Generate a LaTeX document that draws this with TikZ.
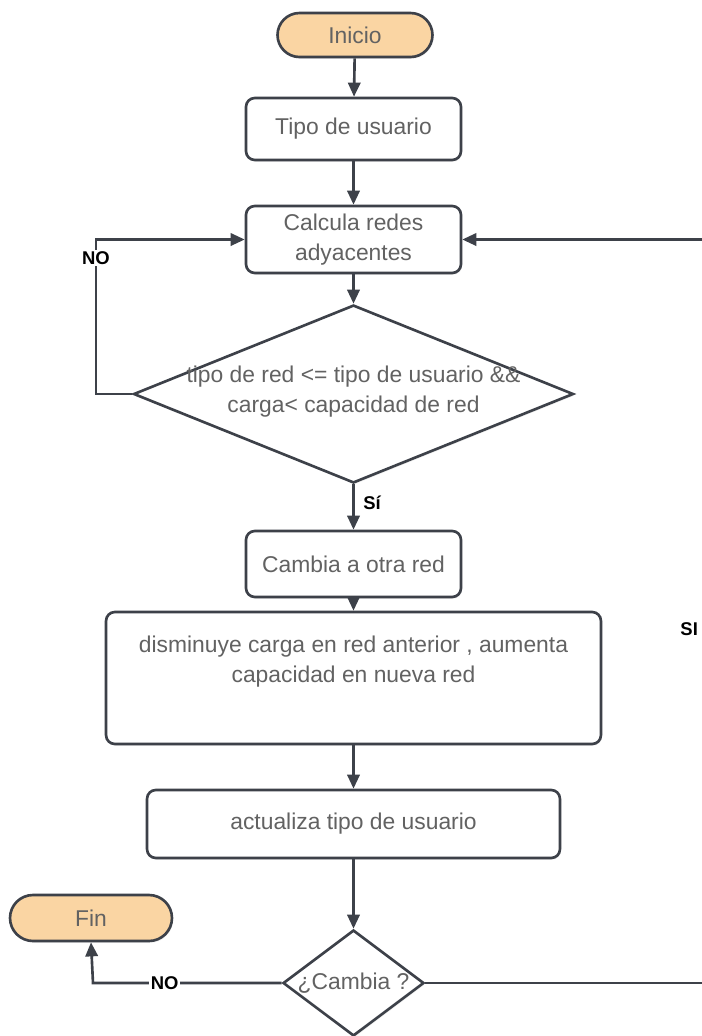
\documentclass[tikz,border=0pt]{standalone}
\usepackage{fontspec}
\setmainfont{Liberation Sans}
\usetikzlibrary{arrows.meta,shapes.misc,shapes.geometric,shadows}

\definecolor{linegray}{HTML}{3D4149}
\definecolor{textgray}{HTML}{626262}
\definecolor{terminalfill}{HTML}{FAD5A3}

\tikzset{
  base/.style={draw=linegray, line width=1.5pt, text=textgray,
    font=\fontsize{13}{17}\selectfont, align=center, inner sep=0pt,
    drop shadow={opacity=0.12, shadow xshift=0.6pt, shadow yshift=-1pt}},
  terminal/.style={base, rounded rectangle, fill=terminalfill},
  process/.style={base, rectangle, rounded corners=5pt, fill=white},
  decision/.style={base, diamond, fill=white},
  flow/.style={draw=linegray, line width=1.5pt,
    -{Triangle[length=8pt,width=7pt]}},
  tag/.style={font=\bfseries\fontsize{10.5}{12}\selectfont, text=black,
    fill=white, inner sep=1pt},
  dtext/.style={text=textgray, font=\fontsize{13}{17}\selectfont, align=center}
}

\begin{document}
\begin{tikzpicture}[x=0.02cm, y=-0.02cm]
  \useasboundingbox (0,0) rectangle (701,1036);
  \fill[white] (0,0) rectangle (701,1036);

  % main column
  \node[terminal, minimum width=3.1cm, minimum height=0.88cm] (inicio) at (355,35) {Inicio};
  \node[process, minimum width=4.3cm, minimum height=1.24cm] (tipo) at (353.5,129) {Tipo de usuario};
  \node[process, minimum width=4.3cm, minimum height=1.34cm] (calc) at (353.5,239.5) {Calcula redes\\adyacentes};
  \node[decision, minimum width=8.8cm, minimum height=3.56cm] (cond) at (353.5,394) {};
  \node[dtext] (condtxt) at (353.5,392) {tipo de red <= tipo de usuario \&\&\\carga< capacidad de red};
  \node[process, minimum width=4.3cm, minimum height=1.32cm] (cambia) at (353.5,564) {Cambia a otra red};
  \node[process, minimum width=9.9cm, minimum height=2.64cm] (ajuste) at (353.5,678) {disminuye carga en red anterior , aumenta\\capacidad en nueva red\\[4pt]};
  \node[process, minimum width=8.26cm, minimum height=1.36cm] (actual) at (353.5,824) {actualiza tipo de usuario};
  \node[decision, minimum width=2.82cm, minimum height=2.12cm] (pregunta) at (353.5,983) {};
  \node[dtext] (preguntatxt) at (353.5,983) {¿Cambia ?};
  \node[terminal, minimum width=3.24cm, minimum height=0.92cm] (fin) at (91,918) {Fin};

  % helper points for the loops
  \coordinate (izq) at (96,394);
  \coordinate (der) at (716,983);
  \coordinate (finpie) at (93,983);

  % straight flow
  \draw[flow] (inicio) -- (tipo);
  \draw[flow] (tipo) -- (calc);
  \draw[flow] (calc) -- (cond.north);
  \draw[flow] (cond.south) -- (cambia);
  \draw[flow] (cambia) -- (ajuste);
  \draw[flow] (ajuste) -- (actual);
  \draw[flow] (actual) -- (pregunta.north);

  % label on the straight flow
  \node[tag, fill=none] (si1) at (372,503) {Sí};

  % NO loop back to the calculation
  \draw[flow] (cond.west) -- (izq) |- node[tag, pos=0.44] (no1) {NO} (calc.west);

  % end branch
  \draw[flow] (pregunta.west) -- node[tag, pos=0.62] (no2) {NO} (finpie) -- (fin.south);

  % repeat branch along the right edge
  \draw[flow] (pregunta.east) -- (der) |- (calc.east);
  \node[tag, fill=none, anchor=east] (si2) at (700,629) {SI};
\end{tikzpicture}
\end{document}
